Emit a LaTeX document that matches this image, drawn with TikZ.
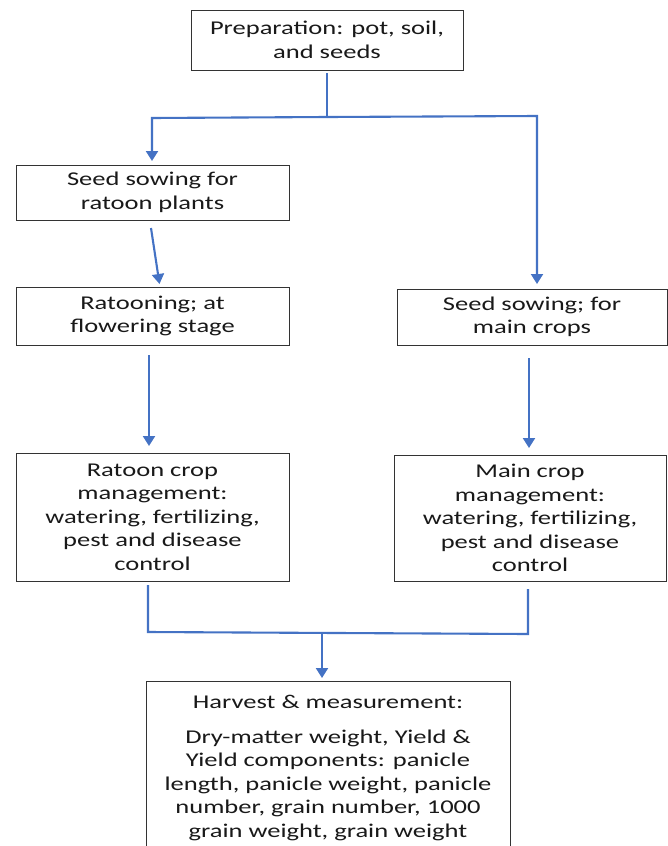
\documentclass[tikz,border=0pt]{standalone}
\usepackage{fontspec}
\setmainfont{Carlito}[FakeStretch=1.36]
\usetikzlibrary{arrows.meta}
\definecolor{arrowblue}{HTML}{4472C4}
\begin{document}
\begin{tikzpicture}[x=1pt,y=-1pt,
  box/.style={draw=black!80, line width=0.9pt, align=center, inner sep=0pt,
    font=\fontsize{19.5}{23.5}\selectfont, text=black!90},
  conn/.style={draw=arrowblue, line width=2.1pt},
  arr/.style={conn, -{Triangle[width=12pt,length=10pt]}}]
\useasboundingbox (0,0) rectangle (668,846);
\clip (0,0) rectangle (668,846);
\fill[white] (0,0) rectangle (668,846);

\node[box, minimum width=272pt, minimum height=60pt] (prep) at (327,40) {Preparation: pot, soil,\\and seeds};
\node[box, minimum width=273pt, minimum height=55pt] (ssr) at (152.5,192.5) {Seed sowing for\\ratoon plants};
\node[box, minimum width=273pt, minimum height=58pt] (rat) at (152.5,316) {Ratooning; at\\flowering stage};
\node[box, minimum width=270pt, minimum height=56pt] (ssm) at (532,317) {Seed sowing; for\\main crops};
\node[box, minimum width=273pt, minimum height=128pt] (rcm) at (152.5,517) {Ratoon crop\\management:\\watering, fertilizing,\\pest and disease\\control};
\node[box, minimum width=272pt, minimum height=126pt] (mcm) at (530,518) {Main crop\\management:\\watering, fertilizing,\\pest and disease\\control};
\node[box, minimum width=364pt, minimum height=200pt, anchor=north, align=center] (har) at (328,681) {};
\node[font=\fontsize{19.5}{23.5}\selectfont, text=black!90, align=center, anchor=north, inner sep=0pt] (hartxt) at (328,695) {Harvest \& measurement:\\[11pt]Dry-matter weight, Yield \&\\Yield components: panicle\\length, panicle weight, panicle\\number, grain number, 1000\\grain weight, grain weight};

\coordinate (p0) at (327,73);
\coordinate (pj) at (327,117);
\coordinate (pl) at (152,118);
\coordinate (pr) at (537,116);
\draw[conn] (p0) -- (pj);
\draw[arr] (pj) -- (pl) -- (152,161);
\draw[arr] (pj) -- (pr) -- (537,284);

\coordinate (s1) at (151,228);
\coordinate (s2) at (159.5,284);
\draw[arr] (s1) -- (s2);

\coordinate (r1) at (149,355);
\coordinate (r2) at (149,446);
\draw[arr] (r1) -- (r2);

\coordinate (m1) at (529,358);
\coordinate (m2) at (529,448);
\draw[arr] (m1) -- (m2);

\coordinate (b1) at (148,585);
\coordinate (b2) at (148,632);
\coordinate (b3) at (528,634);
\coordinate (b4) at (528,589);
\coordinate (bj) at (322,633);
\coordinate (be) at (322,678);
\draw[conn] (b1) -- (b2) -- (b3) -- (b4);
\draw[arr] (bj) -- (be);
\end{tikzpicture}
\end{document}
